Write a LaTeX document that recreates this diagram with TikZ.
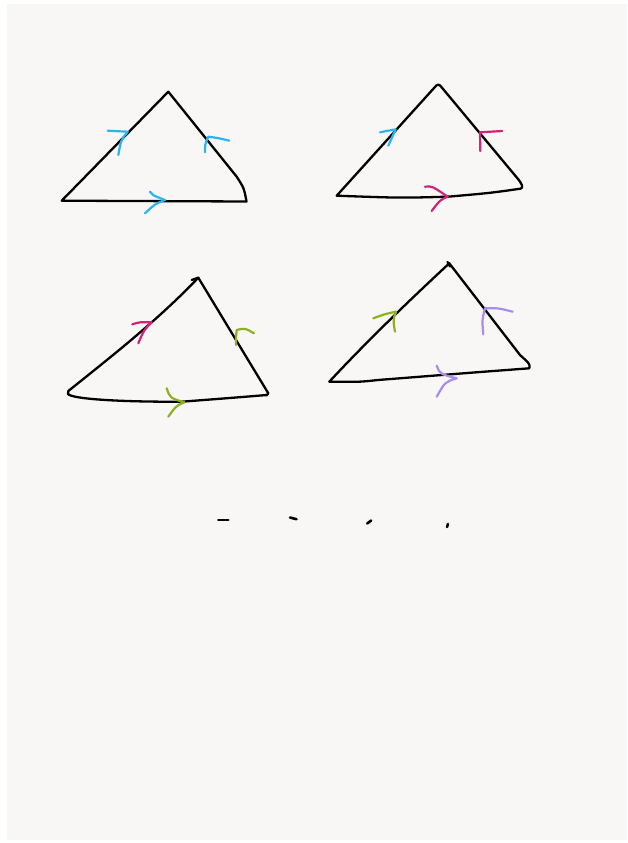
\documentclass[tikz,border=0pt]{standalone}
\usepackage{tikz}
\usetikzlibrary{arrows.meta}
\usepackage{xcolor}

\definecolor{paper}{HTML}{F8F7F5}
\definecolor{skyblue}{HTML}{2AB4F2}
\definecolor{rose}{HTML}{CF2478}
\definecolor{lime}{HTML}{8DB21F}
\definecolor{lilac}{HTML}{A88EEA}

\begin{document}
\begin{tikzpicture}[
  x=1pt, y=-1pt,
  side/.style={line width=2.3pt, black, line cap=round, line join=round},
  chev/.style={line width=2.2pt, line cap=round, line join=round},
  tick/.style={line width=2.6pt, black, line cap=round}
]

% --- Kartka (tło) ---
\useasboundingbox (0,0) rectangle (628,843);
\fill[white] (0,0) rectangle (628,843);
\fill[paper] (7,4) rectangle (627,840);

% --- Trójkąt 1 (lewy górny) ---
\coordinate (A1) at (61.7,200.7);
\coordinate (B1) at (168.3,91.7);
\coordinate (C1) at (246.5,201.5);
\draw[side] (A1) -- (B1) -- (236.7,176.7) .. controls (244,188) .. (C1) -- cycle;
\draw[chev, skyblue] (107.7,130.7) -- (127.7,131.7) .. controls (121,140) .. (118.3,155);
\draw[chev, skyblue] (229.3,140.7) .. controls (218,138) .. (208.3,136.7) .. controls (205,144) .. (205,152.3);
\draw[chev, skyblue] (150,191.7) .. controls (152,195) .. (165,200) .. controls (155,204) .. (145,213.3);

% --- Trójkąt 2 (prawy górny) ---
\coordinate (A2) at (336.7,195.7);
\coordinate (B2) at (438.3,83.3);
\coordinate (C2) at (523.3,188.3);
\draw[side, rounded corners=3pt] (A2) -- (B2) -- (520.5,182) -- (C2) .. controls (490,193) .. (448,196.7) .. controls (400,198) .. (A2);
\draw[chev, skyblue] (380,132.3) .. controls (388,130) .. (395.7,129.3) .. controls (392,138) .. (388.3,145.7);
\draw[chev, rose] (502.3,131) -- (480,132.3) -- (480.3,151);
\draw[chev, rose] (425,186.7) .. controls (432,186) .. (447.7,196.7) .. controls (440,200) .. (431.7,211);

% --- Trójkąt 3 (lewy dolny) ---
\coordinate (A3) at (68.3,391);
\coordinate (B3) at (198.3,277.7);
\coordinate (C3) at (268.3,393.3);
\draw[side] (A3) .. controls (112,356) and (158,320) .. (B3) -- (C3) .. controls (266,396) .. (266.7,395) .. controls (230,398) .. (181.7,401.7) .. controls (120,402) and (72,399) .. (68,394) -- cycle;
\draw[side] (191.7,280) -- (B3);
\draw[chev, rose] (132.3,324.3) .. controls (140,322) .. (151.7,322.3) .. controls (144,330) .. (138.3,343.3);
\draw[chev, lime] (254,333.3) .. controls (245,328) .. (236.7,330) .. controls (236,336) .. (236,345);
\draw[chev, lime] (166.7,388.3) .. controls (170,398) .. (184.3,402.3) .. controls (176,406) .. (168.3,416.7);

% --- Trójkąt 4 (prawy dolny) ---
\coordinate (A4) at (329.3,381.7);
\coordinate (B4) at (449.3,263.3);
\coordinate (C4) at (529.3,368.3);
\draw[side] (A4) .. controls (370,338) and (412,298) .. (B4) -- (520,355) .. controls (530,364) .. (C4) .. controls (480,372) .. (378,380) .. controls (360,382) .. (A4);
\draw[side] (447.5,262) -- (450,266.5);
\draw[chev, lime] (373.3,318.3) .. controls (385,314) .. (396,311.7) .. controls (393,320) .. (395,331.7);
\draw[chev, lilac] (512.7,311.7) .. controls (498,308) .. (485,308.3) .. controls (482,320) .. (483.3,334.3);
\draw[chev, lilac] (436.7,365.7) .. controls (440,374) .. (456.7,378.3) .. controls (445,382) .. (436.7,396.7);

% --- Kreski pod spodem ---
\draw[tick] (218.3,520) -- (228.3,520);
\draw[tick] (290,517.5) -- (296.5,519.2);
\draw[tick] (367.2,523.5) -- (371.2,520.5);
\draw[tick] (447,527) -- (448,524);

\end{tikzpicture}
\end{document}
